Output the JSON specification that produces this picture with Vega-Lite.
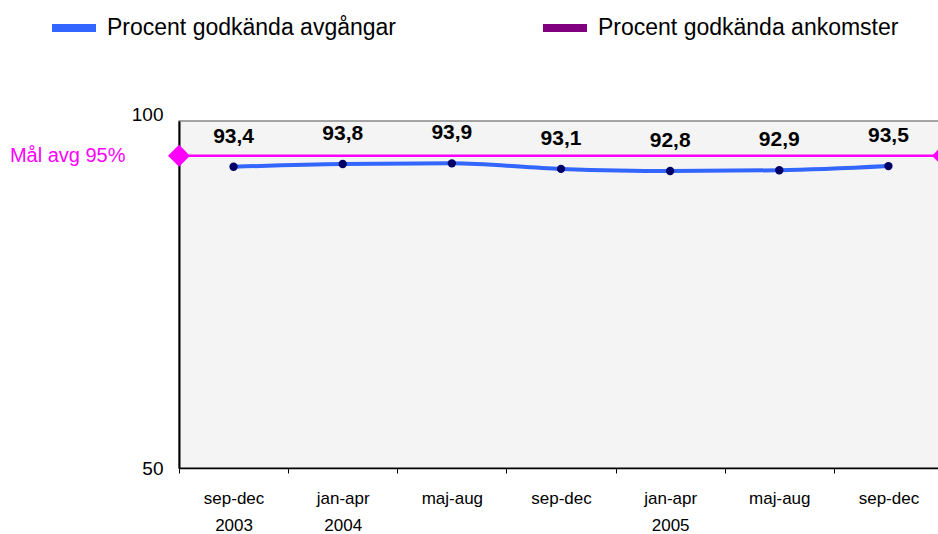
{
  "$schema": "https://vega.github.io/schema/vega-lite/v6.json",
  "width": 764,
  "height": 347,
  "autosize": "none",
  "padding": {"left": 179, "top": 121, "right": 0, "bottom": 66},
  "config": {
    "font": "Liberation Sans",
    "view": {"fill": "#F4F4F4", "stroke": "#888888", "strokeWidth": 1.5},
    "locale": {"number": {"decimal": ",", "thousands": " ", "grouping": [3], "currency": ["", " kr"]}}
  },
  "datasets": {
    "series": [
      {"period": "sep-dec 2003", "value": 93.4, "serie": "Procent godkända avgångar"},
      {"period": "jan-apr 2004", "value": 93.8, "serie": "Procent godkända avgångar"},
      {"period": "maj-aug 2004", "value": 93.9, "serie": "Procent godkända avgångar"},
      {"period": "sep-dec 2004", "value": 93.1, "serie": "Procent godkända avgångar"},
      {"period": "jan-apr 2005", "value": 92.8, "serie": "Procent godkända avgångar"},
      {"period": "maj-aug 2005", "value": 92.9, "serie": "Procent godkända avgångar"},
      {"period": "sep-dec 2005", "value": 93.5, "serie": "Procent godkända avgångar"}
    ],
    "target": [
      {"pos": 0, "goal": 95},
      {"pos": 1, "goal": 95}
    ]
  },
  "resolve": {"scale": {"x": "independent"}},
  "layer": [
    {
      "data": {"name": "target"},
      "mark": {"type": "line", "color": "#FF00FF", "strokeWidth": 2.5},
      "encoding": {
        "x": {"field": "pos", "type": "quantitative", "scale": {"domain": [0, 1], "nice": false, "zero": false}, "axis": null},
        "y": {"field": "goal", "type": "quantitative", "scale": {"domain": [50, 100], "nice": false, "zero": false},
          "axis": {
            "title": null, "values": [50, 95, 100], "ticks": false, "grid": false,
            "domainColor": "#000000", "domainWidth": 2,
            "labelFlush": false, "labelOverlap": false,
            "labelExpr": "datum.value == 95 ? 'Mål avg 95%' : datum.label",
            "labelColor": {"condition": {"test": "datum.value == 95", "value": "#FF00FF"}, "value": "#000000"},
            "labelFontSize": {"condition": {"test": "datum.value == 95", "value": 20}, "value": 19},
            "labelPadding": {"condition": {"test": "datum.value == 95", "value": 54}, "value": 16},
            "labelOffset": {"condition": {"test": "datum.value == 100", "value": -7}, "value": 0}
          }
        }
      }
    },
    {
      "data": {"name": "target"},
      "mark": {"type": "point", "shape": "diamond", "filled": true, "color": "#FF00FF", "size": 484, "opacity": 1},
      "encoding": {
        "x": {"field": "pos", "type": "quantitative", "scale": {"domain": [0, 1], "nice": false, "zero": false}, "axis": null},
        "y": {"field": "goal", "type": "quantitative"}
      }
    },
    {
      "data": {"name": "series"},
      "layer": [
        {
          "mark": {"type": "line", "strokeWidth": 4, "interpolate": "monotone"},
          "encoding": {
            "color": {
              "field": "serie", "type": "nominal",
              "scale": {"domain": ["Procent godkända avgångar", "Procent godkända ankomster"], "range": ["#3366FF", "#800080"]},
              "legend": {
                "title": null, "orient": "none", "legendX": -131, "legendY": -119,
                "direction": "horizontal", "symbolType": "stroke", "symbolStrokeWidth": 8,
                "symbolSize": 1936, "labelFontSize": 23, "labelColor": "#000000",
                "labelLimit": 400, "labelOffset": 7, "columnPadding": 131
              }
            }
          }
        },
        {
          "mark": {"type": "point", "filled": true, "color": "#000066", "size": 70, "opacity": 1}
        },
        {
          "mark": {"type": "text", "fontSize": 21, "fontWeight": "bold", "color": "#000000", "baseline": "middle", "dy": -30},
          "encoding": {"text": {"field": "value", "type": "quantitative", "format": ".1f"}}
        }
      ],
      "encoding": {
        "x": {
          "field": "period", "type": "nominal", "sort": null,
          "scale": {"type": "band", "paddingInner": 0, "paddingOuter": 0},
          "axis": {
            "title": null, "labelAngle": 0, "tickBand": "extent", "tickSize": 5,
            "tickColor": "#000000", "domainColor": "#000000", "domainWidth": 1.5,
            "labelFontSize": 17, "labelPadding": 17, "labelBaseline": "top", "labelLineHeight": 27,
            "labelColor": "#000000",
            "labelExpr": "!isValid(datum.value) ? '' : indexof(['sep-dec 2003','jan-apr 2004','jan-apr 2005'], datum.value) >= 0 ? split(datum.value, ' ') : split(datum.value, ' ')[0]"
          }
        },
        "y": {"field": "value", "type": "quantitative"}
      }
    }
  ]
}
